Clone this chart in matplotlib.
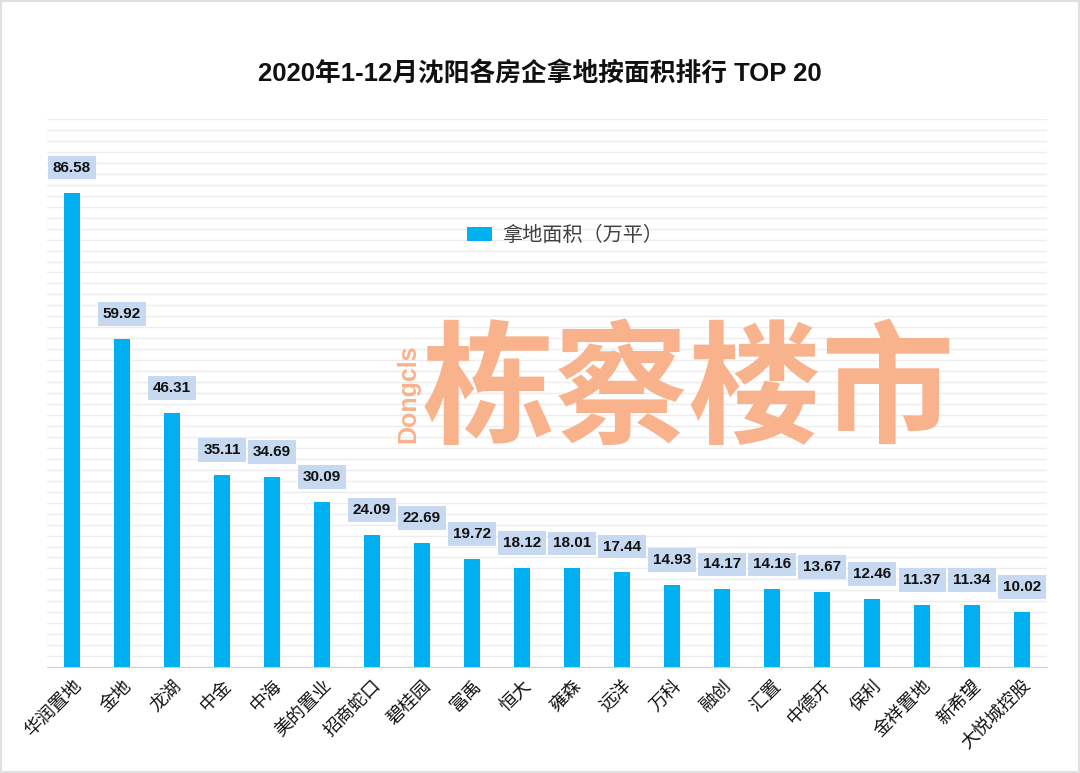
import matplotlib
matplotlib.use("Agg")
import matplotlib.pyplot as plt
import numpy as np

plt.rcParams['font.family'] = ['Liberation Sans', 'Noto Sans CJK SC', 'DejaVu Sans']

companies = ['华润置地', '金地', '龙湖', '中金', '中海', '美的置业', '招商蛇口', '碧桂园', '富禹', '恒大',
             '雍森', '远洋', '万科', '融创', '汇置', '中德开', '保利', '金祥置地', '新希望', '大悦城控股']
area = [86.58, 59.92, 46.31, 35.11, 34.69, 30.09, 24.09, 22.69, 19.72, 18.12,
        18.01, 17.44, 14.93, 14.17, 14.16, 13.67, 12.46, 11.37, 11.34, 10.02]

fig = plt.figure(figsize=(10.8, 7.73), dpi=100)
ax = fig.add_axes([0.0435, 0.137, 0.926, 0.709])

x = np.arange(len(companies))
bars = ax.bar(x, area, width=0.32, color='#00B0F0', label='拿地面积（万平）', zorder=3)

for xi, v in zip(x, area):
    ax.annotate(f'{v:.2f}', (xi, v), xytext=(0, 18), textcoords='offset pixels',
                ha='center', va='bottom', fontsize=11, fontweight='bold', color='#111111',
                bbox=dict(boxstyle='square,pad=0.32', fc='#C6D9F1', ec='none'), zorder=4)

ax.set_xlim(-0.5, len(companies) - 0.5)
ax.set_ylim(0, 100)
ax.set_yticks(np.arange(0, 101, 2))
ax.yaxis.grid(True, color='#EDEDED', linewidth=1.0, zorder=0)
ax.tick_params(axis='y', left=False, labelleft=False)
ax.tick_params(axis='x', length=0, pad=7)
ax.set_xticks(x)
ax.set_xticklabels(companies, rotation=45, ha='right', va='top', rotation_mode='anchor',
                   fontsize=13, family=['Noto Sans CJK SC'], color='#111111')
for s in ['top', 'left', 'right']:
    ax.spines[s].set_visible(False)
ax.spines['bottom'].set_color('#D0D0D0')

fig.text(0.5, 0.905, '2020年1-12月沈阳各房企拿地按面积排行 TOP 20', ha='center', va='center',
         fontsize=18.5, fontweight='bold', color='#111111')

leg = ax.legend(loc='center', bbox_to_anchor=(0.518, 0.787), frameon=False,
                handlelength=1.25, handleheight=0.65, handletextpad=0.5,
                prop={'family': ['Noto Sans CJK SC'], 'size': 14.5})
for t in leg.get_texts():
    t.set_color('#404040')

# watermark
fig.text(0.637, 0.49, '栋察楼市', ha='center', va='center', fontsize=96, fontweight='black',
         color='#F8B38D', family=['Noto Sans CJK SC'])
fig.text(0.378, 0.49, 'Dongcls', ha='center', va='center', rotation=90, fontsize=18,
         fontweight='bold', color='#F8B38D')

fig.patches.append(plt.Rectangle((0.001, 0.001), 0.998, 0.998, transform=fig.transFigure,
                                 fill=False, ec='#E0E0E0', lw=1.5))

plt.savefig('out.png', dpi=100)
